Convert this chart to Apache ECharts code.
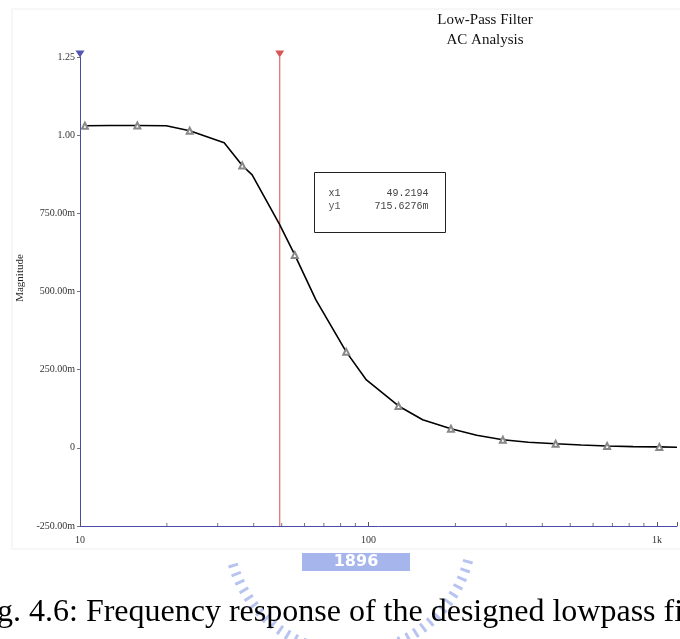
<!DOCTYPE html>
<html>
<head>
<meta charset="utf-8">
<script src="https://cdn.jsdelivr.net/npm/echarts@6/dist/echarts.min.js"></script>
<style>html,body{margin:0;padding:0;background:#fff}#c{width:680px;height:639px}</style>
</head>
<body>
<div id="c"></div>
<script>
// ---- data ----
const curveFreq = [10.4, 12.7, 15.8, 19.9, 24.0, 31.6, 36.5, 39.5, 49.2, 55.5, 65.7, 83.7, 98.3, 127, 154, 193, 237, 292, 358, 445, 546, 671, 825, 1018, 1172];
const curveMag  = [1.030, 1.031, 1.031, 1.030, 1.014, 0.976, 0.903, 0.873, 0.714, 0.617, 0.473, 0.307, 0.217, 0.134, 0.090, 0.061, 0.040, 0.026, 0.018, 0.013, 0.009, 0.006, 0.004, 0.003, 0.002];
const markerIdx = [0, 2, 4, 6, 9, 11, 13, 15, 17, 19, 21, 23];
const cursorX = [10, 49.2194];
const cursorReadout = { x1: '49.2194', y1: '715.6276m' };
const xTickValues = [10, 100, 1000];
const xTickLabels = ['10', '100', '1k'];
const xMinorTicks = [20, 30, 40, 50, 60, 70, 80, 90, 200, 300, 400, 500, 600, 700, 800, 900];
const yTickValues = [-0.25, 0, 0.25, 0.5, 0.75, 1.0, 1.25];
const yTickLabels = ['-250.00m', '0', '250.00m', '500.00m', '750.00m', '1.00', '1.25'];

const serif = '"Liberation Serif", "Times New Roman", serif';
const axisBlue = '#4a4aa8';

const chart = echarts.init(document.getElementById('c'), null, { renderer: 'canvas' });

const curveData = curveFreq.map((f, i) => ({
  value: [f, curveMag[i]],
  symbol: markerIdx.indexOf(i) >= 0 ? 'emptyTriangle' : 'none'
}));

const option = {
  animation: false,
  backgroundColor: '#fff',
  title: {
    text: 'Low-Pass Filter\nAC Analysis',
    left: 480, top: 5, textAlign: 'center',
    textStyle: { fontFamily: serif, fontSize: 15, fontWeight: 'normal', color: '#111', lineHeight: 20 }
  },
  grid: { left: 80, right: 0, top: 57, bottom: 113 },
  xAxis: {
    type: 'log', logBase: 10, min: 10, max: 1172,
    axisLine: { onZero: false, lineStyle: { color: axisBlue, width: 1 } },
    axisTick: { show: true, inside: true, length: 4, lineStyle: { color: '#555' } },
    splitLine: { show: false },
    axisLabel: {
      fontFamily: serif, fontSize: 10, color: '#333', margin: 9,
      formatter: v => { const i = xTickValues.findIndex(t => Math.abs(t - v) < 1e-6); return i >= 0 ? xTickLabels[i] : ''; }
    }
  },
  yAxis: {
    type: 'value', min: -0.25, max: 1.25, interval: 0.25,
    axisLine: { show: true, lineStyle: { color: axisBlue, width: 1 } },
    axisTick: { show: true, length: 3, lineStyle: { color: '#777' } },
    splitLine: { show: false },
    axisLabel: {
      fontFamily: serif, fontSize: 10, color: '#333', margin: 5,
      formatter: v => { const i = yTickValues.findIndex(t => Math.abs(t - v) < 1e-6); return i >= 0 ? yTickLabels[i] : ''; }
    }
  },
  series: [
    {
      type: 'line', data: curveData, smooth: false, showSymbol: true, symbolSize: 6,
      lineStyle: { color: '#000', width: 1.6 },
      itemStyle: { color: '#888', borderColor: '#888', borderWidth: 1 },
      z: 3
    },
    {
      type: 'line', data: [[cursorX[1], -0.25], [cursorX[1], 1.25]],
      showSymbol: false, lineStyle: { color: '#e06a6a', width: 1.2 }, z: 2, silent: true
    },
    {
      type: 'scatter', data: xMinorTicks.map(f => [f, -0.25]),
      symbol: 'rect', symbolSize: [1, 3], symbolOffset: [0, -1.5],
      itemStyle: { color: '#555' }, z: 4, silent: true
    },
    {
      type: 'scatter', clip: false, silent: true, z: 5,
      data: [
        { value: [cursorX[0], 1.25], itemStyle: { color: '#2a2aa0' } },
        { value: [cursorX[1], 1.25], itemStyle: { color: '#d02a2a' } }
      ],
      symbol: 'triangle', symbolRotate: 180, symbolSize: [9, 7], symbolOffset: [0, -3]
    }
  ],
  graphic: [
    { type: 'rect', shape: { x: 12, y: 9, width: 700, height: 540 }, style: { fill: 'none', stroke: '#eeeeee', lineWidth: 1 }, z: -1 },
    { type: 'text', x: 20, y: 278, rotation: Math.PI / 2, style: { text: 'Magnitude', font: '11px "Liberation Serif", serif', fill: '#222', textAlign: 'center', textVerticalAlign: 'middle' } },
    {
      type: 'group', left: 314, top: 172,
      children: [
        { type: 'rect', shape: { x: 0, y: 0, width: 131, height: 60 }, style: { fill: '#fff', stroke: '#222', lineWidth: 1 } },
        { type: 'text', x: 14, y: 21, style: { text: 'x1', font: '10px "Liberation Mono", monospace', fill: '#444', textVerticalAlign: 'middle' } },
        { type: 'text', x: 114, y: 21, style: { text: cursorReadout.x1, font: '10px "Liberation Mono", monospace', fill: '#444', textAlign: 'right', textVerticalAlign: 'middle' } },
        { type: 'text', x: 14, y: 34, style: { text: 'y1', font: '10px "Liberation Mono", monospace', fill: '#555', textVerticalAlign: 'middle' } },
        { type: 'text', x: 114, y: 34, style: { text: cursorReadout.y1, font: '10px "Liberation Mono", monospace', fill: '#444', textAlign: 'right', textVerticalAlign: 'middle' } }
      ]
    },
    // watermark
    { type: 'arc', shape: { cx: 350, cy: 530, r: 122, startAngle: Math.PI * 0.08, endAngle: Math.PI * 0.38 }, style: { stroke: '#b7c4f0', lineWidth: 10, lineDash: [3, 6], fill: 'none' }, z: 0 },
    { type: 'arc', shape: { cx: 350, cy: 530, r: 122, startAngle: Math.PI * 0.62, endAngle: Math.PI * 0.92 }, style: { stroke: '#b7c4f0', lineWidth: 10, lineDash: [3, 6], fill: 'none' }, z: 0 },
    { type: 'rect', shape: { x: 302, y: 553, width: 108, height: 18 }, style: { fill: '#a6b6ec' }, z: 0 },
    { type: 'text', x: 356, y: 562, style: { text: '1896', font: 'bold 16px "DejaVu Sans", sans-serif', fill: '#ffffff', textAlign: 'center', textVerticalAlign: 'middle' }, z: 1 },
    { type: 'text', x: -3, y: 613, style: { text: 'g. 4.6: Frequency response of the designed lowpass fi', font: '32px "Liberation Serif", serif', fill: '#000', textVerticalAlign: 'middle' }, z: 2 }
  ]
};
chart.setOption(option);
</script>
</body>
</html>
